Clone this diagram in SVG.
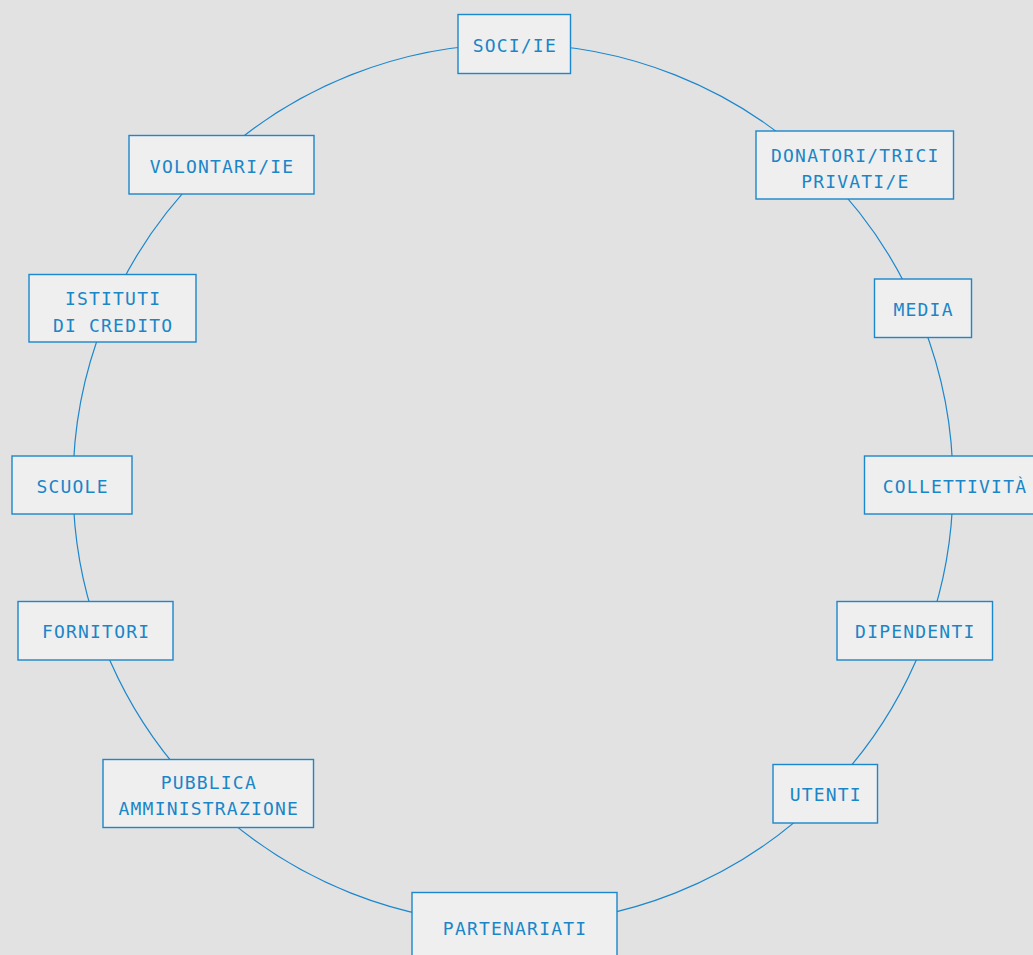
<svg xmlns="http://www.w3.org/2000/svg" width="1033" height="955" viewBox="0 0 1033 955">
<style>
.bg{fill:#e2e2e2}
.ring{fill:none;stroke:#1b87cc;stroke-width:1.2}
.box{fill:#efefef;stroke:#1b87cc;stroke-width:1.4}
.lbl{font-family:"DejaVu Sans Mono","Liberation Mono",monospace;font-size:18px;letter-spacing:1.2px;fill:#1a86c8;text-anchor:middle}
</style>
<rect class="bg" x="0" y="0" width="1033" height="955"/>
<g id="connectors">
<circle class="ring" cx="513" cy="484" r="440"/>
</g>
<g id="soci"><rect class="box" x="458" y="14.5" width="112.5" height="59"/><text class="lbl" x="514.8" y="52">SOCI/IE</text></g>
<g id="donatori"><rect class="box" x="756" y="131" width="197.5" height="68"/><text class="lbl" x="855.3" y="161.5">DONATORI/TRICI</text><text class="lbl" x="855.3" y="187.5">PRIVATI/E</text></g>
<g id="media"><rect class="box" x="874.5" y="279" width="97" height="58.5"/><text class="lbl" x="923.6" y="316">MEDIA</text></g>
<g id="collettivita"><rect class="box" x="864.5" y="456" width="180" height="58"/><text class="lbl" x="955" y="493">COLLETTIVITÀ</text></g>
<g id="dipendenti"><rect class="box" x="837" y="601.5" width="155.5" height="58.5"/><text class="lbl" x="915.3" y="638">DIPENDENTI</text></g>
<g id="utenti"><rect class="box" x="773" y="764.5" width="104.5" height="58.5"/><text class="lbl" x="825.8" y="801">UTENTI</text></g>
<g id="partenariati"><rect class="box" x="412" y="892.5" width="205" height="70"/><text class="lbl" x="515.1" y="934.5">PARTENARIATI</text></g>
<g id="pubblica"><rect class="box" x="103" y="759.5" width="210.5" height="68"/><text class="lbl" x="208.8" y="789">PUBBLICA</text><text class="lbl" x="208.8" y="815">AMMINISTRAZIONE</text></g>
<g id="fornitori"><rect class="box" x="18" y="601.5" width="155" height="58.5"/><text class="lbl" x="96.1" y="638">FORNITORI</text></g>
<g id="scuole"><rect class="box" x="12" y="456" width="120" height="58"/><text class="lbl" x="72.6" y="493">SCUOLE</text></g>
<g id="istituti"><rect class="box" x="29" y="274.5" width="167" height="67.5"/><text class="lbl" x="113.1" y="305">ISTITUTI</text><text class="lbl" x="113.1" y="331.5">DI CREDITO</text></g>
<g id="volontari"><rect class="box" x="129" y="135.5" width="185" height="58.5"/><text class="lbl" x="222.1" y="173">VOLONTARI/IE</text></g>
</svg>
